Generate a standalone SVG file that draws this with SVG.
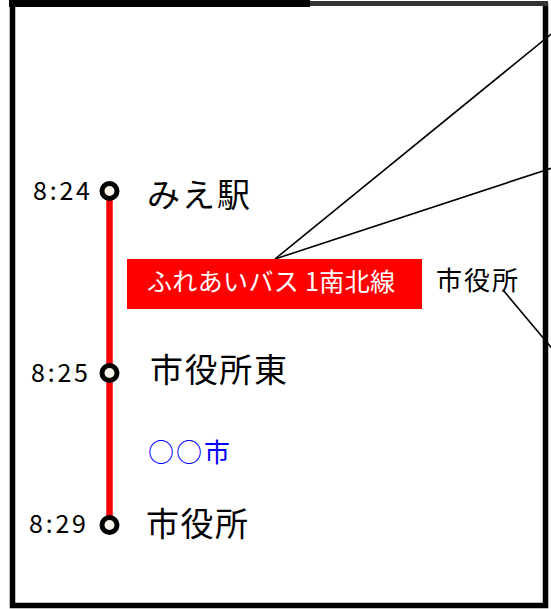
<svg xmlns="http://www.w3.org/2000/svg" width="551" height="609" viewBox="0 0 551 609">
<style>
.t{font-family:"Noto Sans CJK JP","Noto Sans",sans-serif;fill:#000}
.time{font-size:25px}
.stop{font-size:33px}
.lead{stroke:#000;stroke-width:1.6;fill:none}
.stn{fill:#faf3ea;stroke:#000;stroke-width:5}
</style>
<rect x="0" y="0" width="551" height="609" fill="#fff"/>
<g id="frame">
<path d="M12.5,3 V605.5 H545.5 V3" fill="none" stroke="#000" stroke-width="5.5"/>
<rect x="9" y="0" width="301" height="7" fill="#000"/>
<rect x="310" y="1" width="238" height="5" fill="#333"/>
</g>
<g id="connectors">
<line class="lead" x1="275" y1="259" x2="555" y2="31"/>
<line class="lead" x1="275" y1="259" x2="555" y2="167"/>
<line class="lead" x1="503" y1="290" x2="555" y2="352"/>
</g>
<g id="route">
<line x1="109.5" y1="191" x2="109.5" y2="525" stroke="#f00" stroke-width="6.5"/>
</g>
<g id="stop-mie">
<circle class="stn" cx="109.5" cy="191" r="7.5"/>
<text class="t time" x="33" y="200" textLength="57">8:24</text>
<text class="t stop" x="147" y="207" textLength="103">みえ駅</text>
</g>
<g id="stop-shiyakushohigashi">
<circle class="stn" cx="109.5" cy="373" r="7.5"/>
<text class="t time" x="31" y="382" textLength="57">8:25</text>
<text class="t stop" x="150" y="382" textLength="137">市役所東</text>
</g>
<g id="stop-shiyakusho">
<circle class="stn" cx="109.5" cy="525" r="7.5"/>
<text class="t time" x="29" y="533" textLength="57">8:29</text>
<text class="t stop" x="146" y="536" textLength="102">市役所</text>
</g>
<g id="city">
<text class="t" x="148" y="462" font-size="26" style="fill:#0000ff" textLength="82">○○市</text>
</g>
<g id="route-label">
<rect x="127" y="259" width="295" height="50" fill="#f00"/>
<text class="t" x="147" y="291" font-size="25" style="fill:#fff" textLength="248">ふれあいバス 1南北線</text>
</g>
<g id="label-shiyakusho">
<text class="t" x="436" y="290" font-size="26" textLength="82">市役所</text>
</g>
</svg>
